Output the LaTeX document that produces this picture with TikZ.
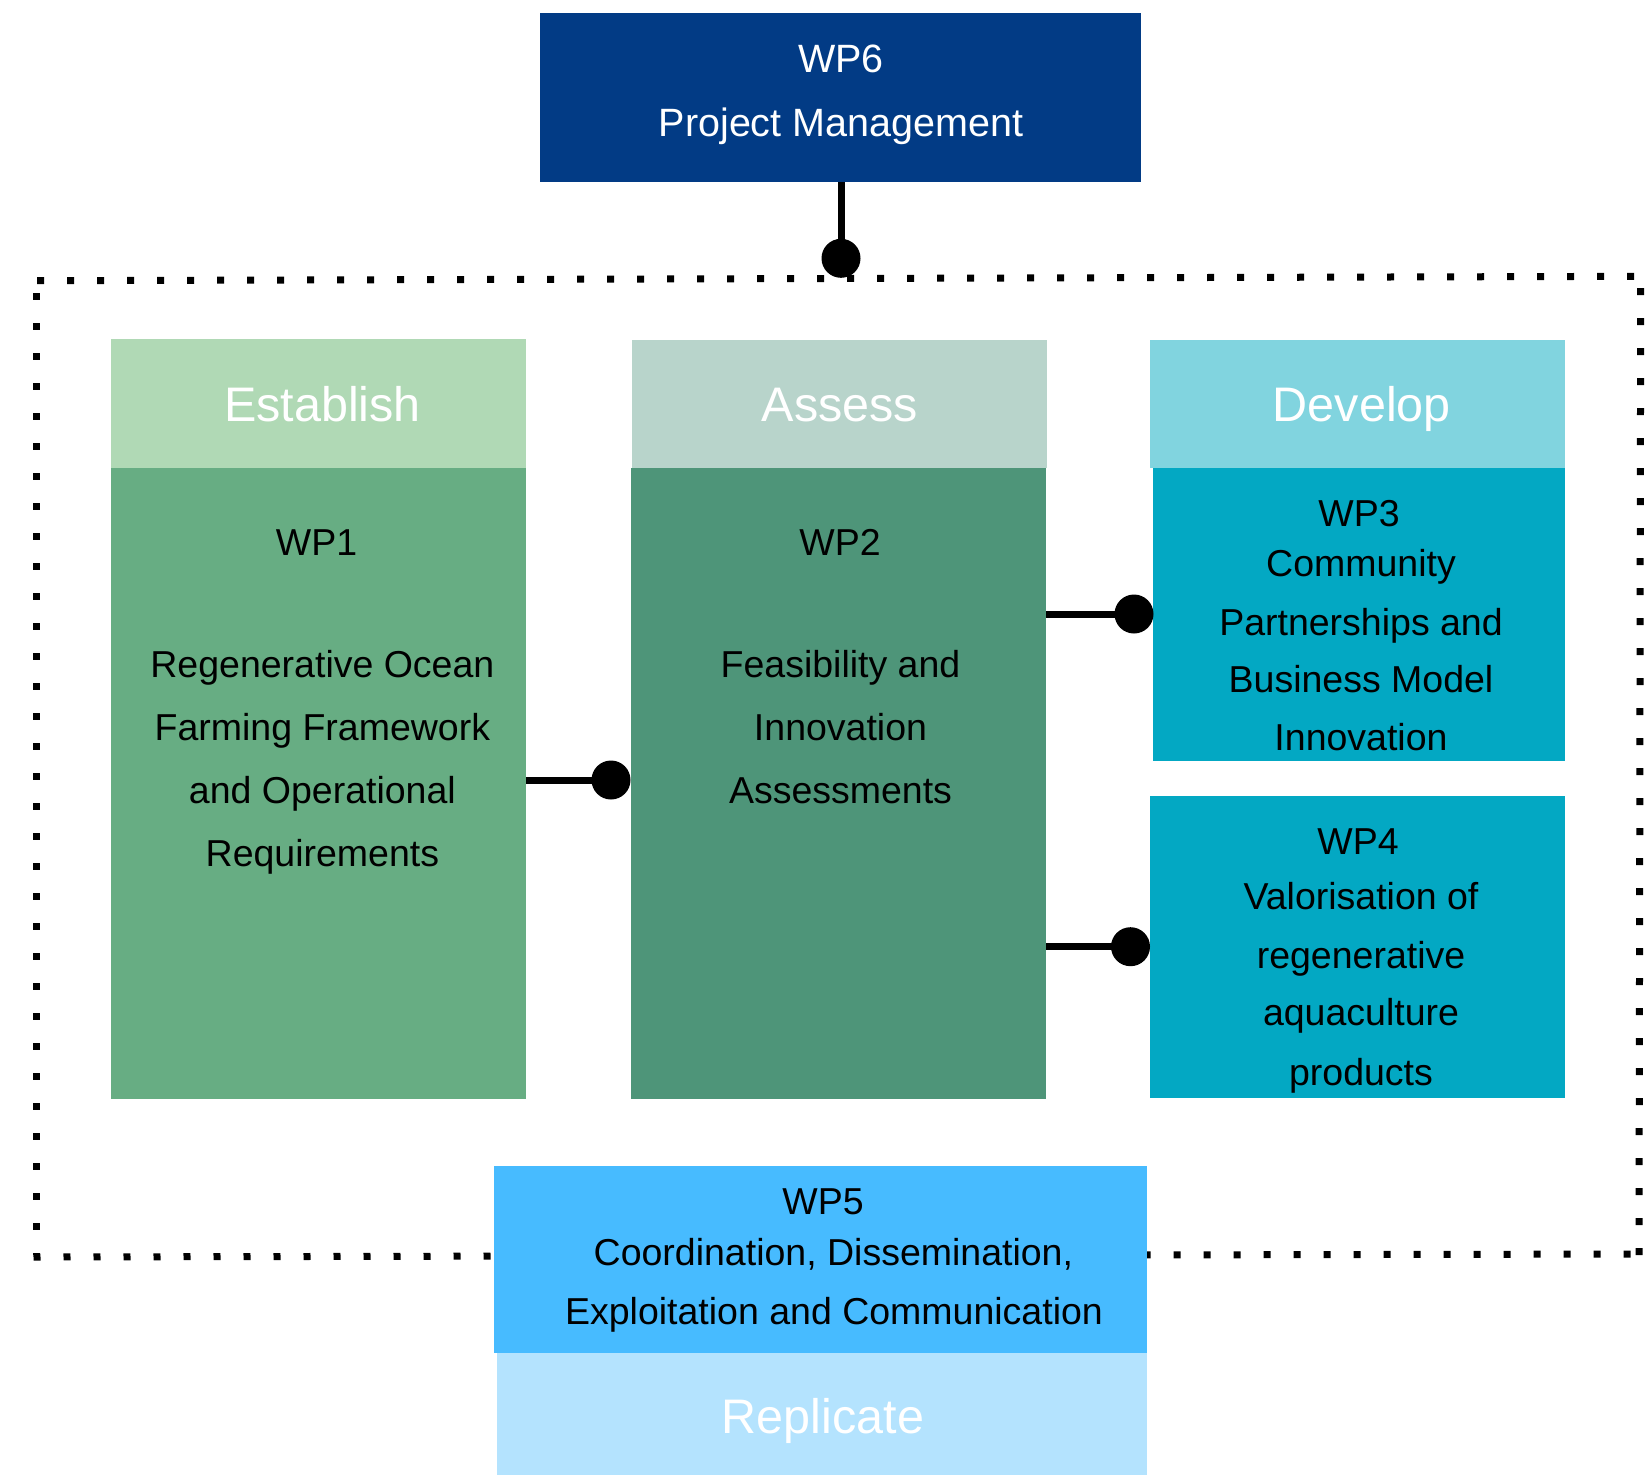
\documentclass[tikz,border=0pt]{standalone}
\usepackage{fontspec}
\setmainfont{Liberation Sans}
\definecolor{cwpsix}{HTML}{023B85}
\definecolor{chdrone}{HTML}{B0D9B5}
\definecolor{cwpone}{HTML}{67AD83}
\definecolor{chdrtwo}{HTML}{B8D4CB}
\definecolor{cwptwo}{HTML}{4E9579}
\definecolor{chdrthree}{HTML}{81D4DF}
\definecolor{cwpthree}{HTML}{03A8C3}
\definecolor{cwpfive}{HTML}{47BBFF}
\definecolor{crep}{HTML}{B4E3FE}
\begin{document}
\begin{tikzpicture}[x=1pt,y=-1pt,
  box/.style={draw=none,inner sep=0pt,outer sep=0pt,anchor=north west},
  body/.style={font=\fontsize{37.5}{45}\selectfont,anchor=base,inner sep=0pt,text=black},
  bigbody/.style={font=\fontsize{39.5}{47}\selectfont,anchor=base,inner sep=0pt,text=white},
  head/.style={font=\fontsize{48.5}{58}\selectfont,anchor=base,inner sep=0pt,text=white},
  conn/.style={line width=7pt,black},
  knob/.style={circle,fill=black,draw=none,inner sep=0pt,outer sep=0pt,minimum size=39pt},
  dotline/.style={line width=7pt,dash pattern=on 7pt off 23pt,black}
]
\useasboundingbox (0,0) rectangle (1652,1475);

% dotted frame (each side drawn on its own so the dots fall where they do in the reference)
\coordinate (ftl) at (37.2,280.7);
\coordinate (ftr) at (1645,276.3);
\coordinate (frt) at (1640.7,288.2);
\coordinate (frb) at (1639,1255);
\coordinate (fbl) at (33.5,1257);
\coordinate (fbr) at (1640,1254);
\coordinate (flt) at (36.7,293.2);
\coordinate (flb) at (36.7,1255);
\draw[dotline] (ftl) -- (ftr);
\draw[dotline] (frt) -- (frb);
\draw[dotline] (fbl) -- (fbr);
\draw[dotline] (flt) -- (flb);

% boxes
\node[box,fill=cwpsix,minimum width=601pt,minimum height=169pt] (wp6) at (540,13) {};
\node[box,fill=chdrone,minimum width=415.4pt,minimum height=129pt] (hdr1) at (110.6,339) {};
\node[box,fill=cwpone,minimum width=415.4pt,minimum height=631pt] (wp1) at (110.6,468) {};
\node[box,fill=chdrtwo,minimum width=415pt,minimum height=128pt] (hdr2) at (632,340) {};
\node[box,fill=cwptwo,minimum width=415pt,minimum height=631pt] (wp2) at (631,468) {};
\node[box,fill=chdrthree,minimum width=415pt,minimum height=128pt] (hdr3) at (1149.5,340) {};
\node[box,fill=cwpthree,minimum width=412pt,minimum height=292.7pt] (wp3) at (1152.6,468) {};
\node[box,fill=cwpthree,minimum width=415pt,minimum height=302pt] (wp4) at (1149.5,796) {};
\node[box,fill=cwpfive,minimum width=653pt,minimum height=187pt] (wp5) at (494,1166) {};
\node[box,fill=crep,minimum width=650pt,minimum height=122pt] (rep) at (497,1353) {};

% knobs and connectors
\node[knob] (k6) at (841,258.3) {};
\node[knob] (k1) at (611,780) {};
\node[knob] (k3) at (1134,614) {};
\node[knob] (k4) at (1130.5,946.7) {};
\draw[conn] (k6 |- wp6.south) -- (k6.center);
\draw[conn] (k1 -| wp1.east) -- (k1.center);
\draw[conn] (k3 -| wp2.east) -- (k3.center);
\draw[conn] (k4 -| wp2.east) -- (k4.center);

% WP6 text
\node[bigbody] (t6a) at (841,72.7) {WP6};
\node[bigbody] (t6b) at (841,136.7) {Project Management};

% headings
\node[head] (h1) at (322.4,421) {Establish};
\node[head] (h2) at (840,421) {Assess};
\node[head] (h3) at (1361.8,421) {Develop};
\node[head] (h5) at (823,1433.3) {Replicate};

% WP1
\node[body] (t1a) at (316.6,555.2) {WP1};
\node[body] (t1b) at (322.4,677.4) {Regenerative Ocean};
\node[body] (t1c) at (322.4,740.6) {Farming Framework};
\node[body] (t1d) at (322.4,803.8) {and Operational};
\node[body] (t1e) at (322.4,866) {Requirements};

% WP2
\node[body] (t2a) at (840,555.2) {WP2};
\node[body] (t2b) at (840.5,677.4) {Feasibility and};
\node[body] (t2c) at (840.5,740.6) {Innovation};
\node[body] (t2d) at (840.5,803.8) {Assessments};

% WP3
\node[body] (t3a) at (1359,526.7) {WP3};
\node[body] (t3b) at (1361,576) {Community};
\node[body] (t3c) at (1361,635) {Partnerships and};
\node[body] (t3d) at (1361,692.3) {Business Model};
\node[body] (t3e) at (1361,750.7) {Innovation};

% WP4
\node[body] (t4a) at (1358,854) {WP4};
\node[body] (t4b) at (1361,909.3) {Valorisation of};
\node[body] (t4c) at (1361,968.3) {regenerative};
\node[body] (t4d) at (1361,1025.7) {aquaculture};
\node[body] (t4e) at (1361,1085) {products};

% WP5
\node[body] (t5a) at (823,1214.5) {WP5};
\node[body] (t5b) at (833.4,1265.5) {Coordination, Dissemination,};
\node[body] (t5c) at (834,1324) {Exploitation and Communication};
\end{tikzpicture}
\end{document}
